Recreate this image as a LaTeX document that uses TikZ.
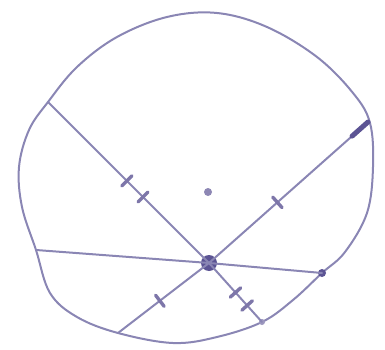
\documentclass[tikz,border=0pt]{standalone}
\usepackage{xcolor}
\usepackage{tikz}
\usetikzlibrary{calc, decorations.markings}
\definecolor{pencil}{HTML}{8A86B4}
\definecolor{pencildark}{HTML}{5C5494}

\begin{document}
\begin{tikzpicture}[x=1pt, y=-1pt, line cap=round, line join=round,
    chord/.style={draw=pencil, line width=2pt},
    tickmark/.style={draw=pencildark!80, line width=3.4pt},
    onetick/.style={postaction={decorate, decoration={markings,
        mark=at position #1 with {\draw[tickmark] (0,-7pt) -- (0,7pt);}}}},
    twoticks/.style 2 args={postaction={decorate, decoration={markings,
        mark=at position #1 with {\draw[tickmark] (0,-7pt) -- (0,7pt);},
        mark=at position #2 with {\draw[tickmark] (0,-7pt) -- (0,7pt);}}}},
    dot/.style={circle, fill=pencildark, inner sep=0pt, minimum size=#1}]
    \useasboundingbox (0,0) rectangle (385,350);

    % hand drawn circle
    \draw[pencil, line width=2pt] plot[smooth cycle, tension=0.6] coordinates {
        (48,102) (77,67) (117,37) (167,17) (217,13) (267,27) (317,57)
        (353,93) (370,123) (373,167) (367,213) (345,252) (322,273)
        (293,300) (262,322) (217,337) (173,343) (118,333) (77,317)
        (50,293) (36,250) (22,207) (19,167) (29,130)};

    % chord end points
    \coordinate (a) at (48,102);
    \coordinate (b) at (262,322);
    \coordinate (c) at (368,122);
    \coordinate (d) at (118,333);
    \coordinate (e) at (36,250);
    \coordinate (f) at (322,273);

    \node[dot=16pt] (p) at (209,263) {};
    \node[dot=8pt, fill=pencildark!70] (o) at (208,192) {};
    \node[dot=8pt] (fdot) at (f) {};
    \node[dot=6pt, fill=pencildark!60] (bdot) at (b) {};

    \draw[chord, twoticks={0.49}{0.59}] (a) -- (p.center);
    \draw[chord, twoticks={0.50}{0.72}] (p.center) -- (b);
    \draw[chord, onetick=0.57] (c) -- (p.center);
    \draw[chord, onetick=0.54] (p.center) -- (d);
    \draw[chord] (e) -- (p.center) -- (f);
    \draw[pencildark, line width=5pt] (c) -- ($(c)!0.1!(p)$);
\end{tikzpicture}
\end{document}
